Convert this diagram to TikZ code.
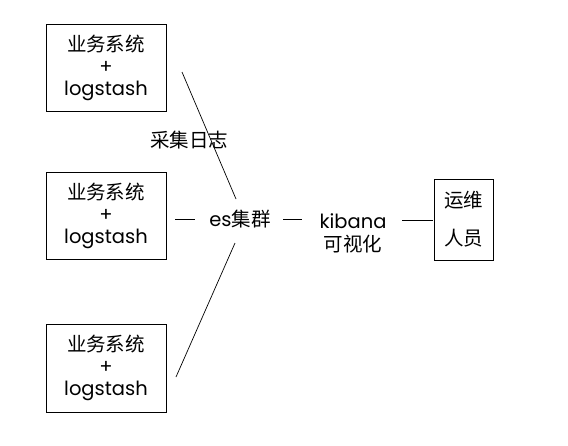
\documentclass[tikz,border=0pt]{standalone}
\usepackage{fontspec}
\setmainfont{Poppins}
\newfontfamily\cjk{Noto Sans CJK SC}
\begin{document}
\begin{tikzpicture}[x=1pt,y=-1pt,
  sysbox/.style={draw,line width=0.9pt,minimum width=120pt,minimum height=87pt,inner sep=0pt,align=center,font=\fontsize{19.5}{22}\selectfont},
  lbl/.style={inner sep=0pt,align=center,font=\fontsize{19.5}{23}\selectfont},
  conn/.style={line width=0.7pt}]
\useasboundingbox (0,0) rectangle (568,445);
\node[sysbox] (b1) at (106,67.5) {{\cjk 业务系统}\\+\\logstash};
\node[sysbox] (b2) at (106,215.5) {{\cjk 业务系统}\\+\\logstash};
\node[sysbox,minimum height=88pt] (b3) at (106,368) {{\cjk 业务系统}\\+\\logstash};
\node[lbl] (es) at (240,219) {es{\cjk 集群}};
\node[lbl] (kib) at (353,233) {kibana\\{\cjk 可视化}};
\node[draw,line width=0.9pt,minimum width=59pt,minimum height=81pt,inner sep=0pt,align=center,font=\fontsize{19.5}{38}\selectfont] (ops) at (463.5,219.5) {{\cjk 运维}\\{\cjk 人员}};
\node[lbl] (cj) at (189,140) {\cjk 采集日志};
\coordinate (l1a) at (182,72);
\coordinate (l1b) at (236,199);
\coordinate (l3a) at (235,243);
\coordinate (l3b) at (176,377);
\coordinate (d1a) at (175,219);
\coordinate (d1b) at (195,219);
\coordinate (d2a) at (283,219);
\coordinate (d2b) at (302,219);
\coordinate (d3a) at (402,220);
\coordinate (d3b) at (433,220);
\draw[conn] (l1a) -- (l1b);
\draw[conn] (l3a) -- (l3b);
\draw[conn] (d1a) -- (d1b);
\draw[conn] (d2a) -- (d2b);
\draw[conn] (d3a) -- (d3b);
\end{tikzpicture}
\end{document}
